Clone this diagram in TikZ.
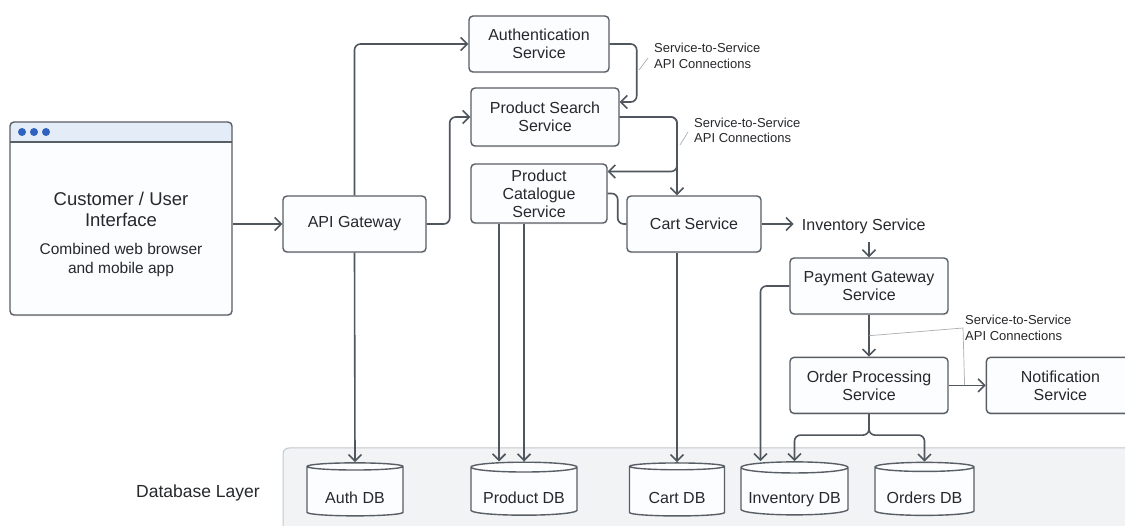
\documentclass[tikz,border=0pt]{standalone}
\usepackage{fontspec}
\setmainfont{Liberation Sans}
\usetikzlibrary{arrows.meta,positioning,shapes.geometric,shadows,calc}
\definecolor{msline}{RGB}{80,86,93}
\definecolor{msbox}{RGB}{88,94,101}
\definecolor{msfill}{RGB}{252,253,254}
\definecolor{mstext}{RGB}{38,40,43}
\definecolor{mslayer}{RGB}{241,243,245}
\definecolor{mslayerline}{RGB}{196,200,205}
\definecolor{msbar}{RGB}{228,236,248}
\definecolor{msdot}{RGB}{46,98,190}
\definecolor{msleader}{RGB}{170,175,180}
\newcommand{\svcfont}{\fontsize{16}{18}\selectfont}
\newcommand{\notefont}{\fontsize{13}{15.5}\selectfont}
\newcommand{\uifont}{\fontsize{18.5}{21}\selectfont}
\newcommand{\subfont}{\fontsize{15.5}{19}\selectfont}
\newcommand{\layerfont}{\fontsize{17.5}{20}\selectfont}

\begin{document}
\begin{tikzpicture}[
    x=1pt, y=-1pt,
    svc/.style={draw=msbox, line width=1.4pt, rounded corners=4pt, fill=msfill, text=mstext, align=center, font=\svcfont, inner sep=2pt, drop shadow={shadow xshift=0pt, shadow yshift=-1.5pt, opacity=0.12}},
    db/.style={cylinder, shape border rotate=90, aspect=0.12, draw=msbox, line width=1.4pt, fill=msfill, text=mstext, font=\svcfont, minimum height=53pt, inner sep=0pt, text height=25pt, text depth=1pt},
    plain/.style={text=mstext, font=\svcfont, inner sep=8pt},
    note/.style={text=mstext, font=\notefont, align=left, inner sep=2pt},
    uitext/.style={text=mstext, font=\uifont, align=center, inner sep=0pt},
    arr/.style={-{Straight Barb[length=6.5pt,width=13pt]}, line width=1.6pt, draw=msline, rounded corners=6pt},
    link/.style={line width=1.6pt, draw=msline, rounded corners=6pt},
    leader/.style={draw=msleader, line width=0.7pt}
  ]
    \useasboundingbox (0,0) rectangle (1125,526);
    \clip (0,0) rectangle (1125,526);
    \fill[white] (0,0) rectangle (1125,526);

    % database layer band
    \draw[draw=mslayerline, fill=mslayer, line width=1pt, rounded corners=6pt] (283,448) rectangle (1150,560);
    \node[text=mstext, font=\layerfont] (dblabel) at (198,493) {Database Layer};

    % client window
    \node[svc, minimum width=222pt, minimum height=193pt, path picture={
        \fill[msbar] (path picture bounding box.north west) rectangle ([yshift=-20pt]path picture bounding box.north east);
        \draw[msbox, line width=1.2pt] ([yshift=-20pt]path picture bounding box.north west) -- ([yshift=-20pt]path picture bounding box.north east);
        \foreach \dx in {12,24,36}
          \fill[msdot] ([xshift=\dx pt, yshift=-10pt]path picture bounding box.north west) circle (4pt);
      }, label={[uitext, yshift=-16pt]center:{Customer / User\\Interface\\[7pt]{\subfont Combined web browser}\\[-2pt]{\subfont and mobile app}}}] (ui) at (121,218.5) {};

    % services
    \node[svc, minimum width=143pt, minimum height=56pt] (api) at (354.5,224) {API Gateway};
    \node[svc, minimum width=140pt, minimum height=56pt] (auth) at (539,44) {Authentication\\Service};
    \node[svc, minimum width=148pt, minimum height=58pt] (search) at (545,117) {Product Search\\Service};
    \node[svc, minimum width=136pt, minimum height=59pt] (cat) at (539,193.5) {Product\\Catalogue\\Service};
    \node[svc, minimum width=134pt, minimum height=56pt] (cart) at (694,224) {Cart Service};
    \node[plain, right=32pt of cart, yshift=-2pt] (inv) {Inventory Service};
    \node[svc, minimum width=158pt, minimum height=56pt] (pay) at (869,286) {Payment Gateway\\Service};
    \node[svc, minimum width=158pt, minimum height=56pt, below=42pt of pay] (order) {Order Processing\\Service};
    \node[svc, minimum width=148pt, minimum height=56pt, right=37pt of order] (notif) {Notification\\Service};

    % databases
    \node[db, minimum width=96pt] (authdb) at (355,491.5) {Auth DB};
    \node[db, minimum width=106pt] (proddb) at (524,491.5) {Product DB};
    \node[db, minimum width=95pt] (cartdb) at (677,491.5) {Cart DB};
    \node[db, minimum width=107pt] (invdb) at (794.5,491.5) {Inventory DB};
    \node[db, minimum width=99pt] (orddb) at (924.5,491.5) {Orders DB};

    % notes
    \node[note, anchor=west] (s2s1) at (652,56) {Service-to-Service\\API Connections};
    \node[note, anchor=west] (s2s2) at (692,130.5) {Service-to-Service\\API Connections};
    \node[note, anchor=west] (s2s3) at (963,328) {Service-to-Service\\API Connections};

    % connectors
    \coordinate (cj) at ([xshift=-17pt]cart.north);
    \coordinate (ct) at ([yshift=22pt]cat.east);
    \coordinate (oj) at ([yshift=-21pt]order.south);
    \draw[arr] (api.west -| ui.east) -- (api.west);
    \draw[arr] (api.north) |- (auth.west);
    \draw[arr] (api.east) -- ++(23,0) |- (search.west);
    \draw[arr] (api.south) -- (authdb.north);
    \draw[arr] (auth.east) -- ++(27,0) |- ([yshift=15pt]search.east);
    \draw[arr] (search.east) -| (cj);
    \draw[arr] (search.east) -| (cj |- ct) -- (ct);
    \draw[link] (cat.east) -- ++(10,0) |- (cart.west);
    \draw[arr] ([xshift=-40pt]cat.south) -- ([xshift=-40pt]cat.south |- proddb.north);
    \draw[arr] (proddb.north |- cat.south) -- (proddb.north);
    \draw[arr] (cartdb.north |- cart.south) -- (cartdb.north);
    \draw[arr] (cart.east) -- (cart.east -| inv.west);
    \draw[arr] (pay.north |- inv.south) -- (pay.north);
    \draw[arr] (pay) -- (order);
    \draw[arr] (order) -- (notif);
    \draw[arr] (pay.west) -| ([xshift=-34pt]invdb.north);
    \draw[arr] (order.south) -- (oj) -| (invdb.north);
    \draw[arr] (order.south) -- (oj) -| (orddb.north);

    % note leaders
    \draw[leader] ([xshift=-4pt,yshift=-2pt]s2s1.west) -- ++(-9,12);
    \draw[leader] ([xshift=-4pt,yshift=-1.5pt]s2s2.west) -- ++(-8,13);
    \draw[leader] ($(pay.south)!0.5!(order.north)$) -- (s2s3.west) -- ($(order.east)!0.43!(notif.west)$);
  \end{tikzpicture}
\end{document}
